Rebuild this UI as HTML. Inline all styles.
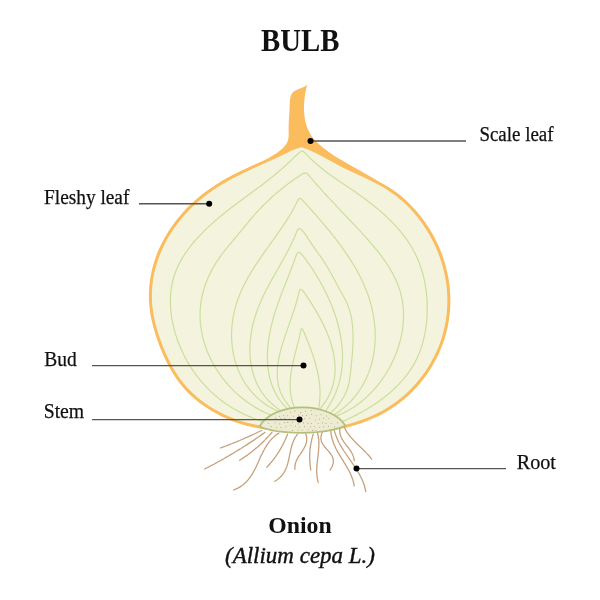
<!DOCTYPE html>
<html><head><meta charset="utf-8"><style>
html,body{margin:0;padding:0;background:#fff;width:600px;height:600px;overflow:hidden}
svg{display:block;will-change:transform}
text{font-family:"Liberation Serif",serif;fill:#111}
</style></head><body>
<svg width="600" height="600" viewBox="0 0 600 600">
<defs><clipPath id="fc"><path d="M301.7 147.2L299.7 147.7L297.0 148.5L294.3 149.5L291.7 150.6L280.8 156.0L275.2 158.6L252.9 168.6L244.6 172.4L236.5 176.4L229.8 180.0L223.3 183.7L218.2 186.8L213.2 190.1L208.3 193.6L203.5 197.2L198.9 201.0L194.4 204.9L190.1 209.1L185.0 214.5L181.1 219.1L177.4 223.8L173.8 228.7L169.7 235.0L166.7 240.1L164.0 245.5L161.5 250.9L159.2 256.4L157.3 262.1L155.6 267.8L154.2 273.6L153.1 279.4L152.4 285.3L152.0 291.2L151.9 297.1L152.1 303.0L152.3 305.9L152.9 310.3L153.8 316.2L155.4 323.5L157.4 330.8L159.8 338.0L162.9 346.5L165.8 353.5L169.0 360.3L171.7 365.6L173.9 369.4L175.5 371.9L178.7 376.9L181.3 380.4L183.1 382.8L186.9 387.2L191.0 391.5L195.4 395.6L200.0 399.4L204.8 403.0L209.8 406.4L212.3 408.0L216.3 410.3L221.6 413.1L224.3 414.4L228.4 416.3L234.0 418.5L236.8 419.5L241.0 421.0L248.0 423.0L255.2 424.6L263.9 426.3L271.4 427.5L280.4 428.6L287.9 429.2L295.5 429.6L303.2 429.7L310.8 429.5L318.4 429.0L325.9 428.2L332.0 427.4L339.4 426.1L346.7 424.5L354.0 422.5L359.7 420.6L366.7 418.1L372.1 415.7L378.8 412.5L384.0 409.7L387.8 407.4L390.3 405.8L395.2 402.5L398.7 399.8L401.0 398.0L405.6 394.1L409.9 390.0L412.0 387.8L415.0 384.5L418.9 379.9L420.8 377.6L423.5 373.9L426.1 370.2L427.7 367.7L430.9 362.5L433.0 358.5L434.4 355.9L437.0 350.4L439.3 344.9L441.3 339.2L443.0 333.5L443.7 330.6L444.7 326.3L445.8 320.5L446.2 317.6L446.8 313.1L447.2 307.2L447.3 304.3L447.4 299.8L447.2 293.9L446.8 288.0L446.0 282.1L445.0 276.3L443.8 270.4L442.2 264.7L440.4 258.9L437.8 251.9L435.5 246.4L432.8 241.0L429.2 234.3L426.1 229.2L421.9 223.0L418.3 218.2L414.5 213.5L410.5 209.1L406.3 204.8L403.0 201.8L399.6 198.9L396.2 196.1L392.6 193.4L388.9 190.9L385.2 188.5L381.4 186.2L376.1 183.4L370.8 180.7L365.3 178.1L350.0 171.0L343.1 167.7L336.2 164.1L322.8 156.8L316.2 153.3L312.1 151.4L308.1 149.6L305.3 148.5L301.7 147.2Z"/></clipPath></defs>
<path d="M307.2 84.8L305.9 85.8L304.3 86.7L302.5 87.5L297.0 89.7L294.5 91.0L293.1 92.1L292.5 92.8L292.0 93.4L291.1 95.0L290.6 96.8L290.2 98.6L289.9 100.5L289.8 102.5L289.5 110.3L288.7 123.4L288.6 128.1L288.7 134.9L288.6 136.8L288.3 138.7L287.9 140.5L287.6 141.4L286.8 143.1L286.4 143.9L285.3 145.4L283.4 147.5L282.0 148.9L280.6 150.1L277.6 152.4L273.6 155.0L268.7 157.9L263.8 160.5L253.0 165.2L246.1 168.4L239.2 171.7L233.7 174.4L227.0 178.1L221.7 181.1L216.6 184.3L211.5 187.7L205.3 192.1L200.5 195.8L195.8 199.7L191.3 203.8L186.9 208.0L182.8 212.5L178.8 217.2L175.0 222.0L171.4 227.0L168.8 230.8L166.4 234.7L164.1 238.7L161.3 244.1L159.3 248.3L157.5 252.5L155.9 256.8L154.4 261.1L153.1 265.5L151.9 270.0L151.0 274.4L150.2 278.9L149.6 283.5L149.1 288.0L148.9 292.6L148.9 297.1L148.9 300.2L149.4 306.2L150.1 312.3L150.6 315.3L151.5 319.8L153.3 327.2L155.5 334.6L158.0 341.9L160.7 349.0L163.7 356.1L167.0 363.0L170.6 369.6L173.7 374.8L176.2 378.6L178.0 381.0L181.7 385.8L185.7 390.4L190.0 394.7L194.5 398.8L199.3 402.7L204.3 406.3L206.9 408.1L210.8 410.5L216.1 413.6L221.6 416.5L227.2 419.0L230.1 420.2L234.3 421.9L240.1 423.8L243.0 424.7L247.3 425.9L254.6 427.6L261.9 429.0L270.9 430.5L278.5 431.4L286.2 432.1L293.9 432.5L303.2 432.7L310.9 432.5L318.6 432.0L326.3 431.2L333.9 430.1L341.5 428.7L349.0 427.0L354.8 425.3L362.1 423.0L367.8 420.8L374.7 417.8L380.2 415.2L384.2 413.0L386.8 411.5L391.9 408.3L395.7 405.8L398.2 404.0L402.9 400.3L407.6 396.3L409.8 394.2L413.1 391.0L417.3 386.5L419.3 384.2L422.2 380.6L426.0 375.7L428.6 371.9L430.3 369.3L432.7 365.3L434.2 362.6L437.1 357.2L439.1 353.0L440.3 350.2L442.6 344.5L444.6 338.7L446.3 332.8L447.7 326.9L448.2 323.9L449.0 319.5L449.7 313.4L450.0 310.4L450.3 305.9L450.4 301.3L450.3 296.8L450.1 292.3L449.6 286.2L448.8 280.2L448.0 275.7L447.0 271.2L445.5 265.3L444.2 260.9L442.3 255.1L440.6 250.8L438.2 245.1L436.2 241.0L433.4 235.5L430.3 230.2L427.8 226.3L424.3 221.2L420.6 216.3L416.7 211.6L413.7 208.2L409.4 203.8L405.0 199.6L400.4 195.6L396.8 192.8L393.1 190.1L390.6 188.4L385.5 185.2L381.5 182.9L377.9 181.0L367.6 174.9L347.3 163.6L340.9 159.8L334.6 155.9L327.7 151.2L322.5 147.3L318.2 143.6L316.2 141.7L314.3 139.7L312.6 137.5L311.0 135.2L309.6 132.8L308.0 129.5L307.0 126.9L305.9 123.4L305.3 120.7L304.6 117.0L304.3 114.2L304.0 110.5L304.0 106.7L304.1 103.0L304.6 98.3L305.2 93.7L306.1 89.1L307.2 84.8Z" fill="#fabc5d"/>
<path d="M301.7 147.2L299.7 147.7L297.0 148.5L294.3 149.5L291.7 150.6L280.8 156.0L275.2 158.6L252.9 168.6L244.6 172.4L236.5 176.4L229.8 180.0L223.3 183.7L218.2 186.8L213.2 190.1L208.3 193.6L203.5 197.2L198.9 201.0L194.4 204.9L190.1 209.1L185.0 214.5L181.1 219.1L177.4 223.8L173.8 228.7L169.7 235.0L166.7 240.1L164.0 245.5L161.5 250.9L159.2 256.4L157.3 262.1L155.6 267.8L154.2 273.6L153.1 279.4L152.4 285.3L152.0 291.2L151.9 297.1L152.1 303.0L152.3 305.9L152.9 310.3L153.8 316.2L155.4 323.5L157.4 330.8L159.8 338.0L162.9 346.5L165.8 353.5L169.0 360.3L171.7 365.6L173.9 369.4L175.5 371.9L178.7 376.9L181.3 380.4L183.1 382.8L186.9 387.2L191.0 391.5L195.4 395.6L200.0 399.4L204.8 403.0L209.8 406.4L212.3 408.0L216.3 410.3L221.6 413.1L224.3 414.4L228.4 416.3L234.0 418.5L236.8 419.5L241.0 421.0L248.0 423.0L255.2 424.6L263.9 426.3L271.4 427.5L280.4 428.6L287.9 429.2L295.5 429.6L303.2 429.7L310.8 429.5L318.4 429.0L325.9 428.2L332.0 427.4L339.4 426.1L346.7 424.5L354.0 422.5L359.7 420.6L366.7 418.1L372.1 415.7L378.8 412.5L384.0 409.7L387.8 407.4L390.3 405.8L395.2 402.5L398.7 399.8L401.0 398.0L405.6 394.1L409.9 390.0L412.0 387.8L415.0 384.5L418.9 379.9L420.8 377.6L423.5 373.9L426.1 370.2L427.7 367.7L430.9 362.5L433.0 358.5L434.4 355.9L437.0 350.4L439.3 344.9L441.3 339.2L443.0 333.5L443.7 330.6L444.7 326.3L445.8 320.5L446.2 317.6L446.8 313.1L447.2 307.2L447.3 304.3L447.4 299.8L447.2 293.9L446.8 288.0L446.0 282.1L445.0 276.3L443.8 270.4L442.2 264.7L440.4 258.9L437.8 251.9L435.5 246.4L432.8 241.0L429.2 234.3L426.1 229.2L421.9 223.0L418.3 218.2L414.5 213.5L410.5 209.1L406.3 204.8L403.0 201.8L399.6 198.9L396.2 196.1L392.6 193.4L388.9 190.9L385.2 188.5L381.4 186.2L376.1 183.4L370.8 180.7L365.3 178.1L350.0 171.0L343.1 167.7L336.2 164.1L322.8 156.8L316.2 153.3L312.1 151.4L308.1 149.6L305.3 148.5L301.7 147.2Z" fill="#f4f3dd"/>
<g clip-path="url(#fc)" fill="none" stroke="#cadf9c" stroke-width="1.2" stroke-linecap="round" stroke-linejoin="round">
<path d="M265.2 422.3L261.4 421.1L259.9 420.6L258.1 419.9L256.1 419.2L254.1 418.5L252.1 417.7L250.2 416.9L248.3 416.1L246.3 415.2L244.4 414.4L242.5 413.5L240.7 412.5L238.8 411.5L236.9 410.5L235.1 409.5L233.3 408.5L231.5 407.4L229.7 406.3L228.0 405.1L226.2 403.9L224.5 402.7L222.8 401.5L221.1 400.2L219.4 399.0L217.8 397.6L216.2 396.3L214.6 394.9L213.0 393.5L211.4 392.1L209.9 390.7L208.4 389.2L206.9 387.7L205.5 386.2L204.1 384.6L202.7 383.1L201.3 381.5L199.9 379.9L198.6 378.2L197.3 376.6L196.1 374.9L194.8 373.2L193.6 371.5L192.4 369.7L191.3 368.0L190.2 366.2L189.1 364.4L188.0 362.6L186.9 360.8L185.9 358.9L184.9 357.1L184.0 355.2L183.1 353.3L182.2 351.4L181.3 349.5L180.5 347.6L179.6 345.6L178.9 343.7L178.1 341.7L177.4 339.7L176.7 337.7L176.1 335.7L175.4 333.7L174.8 331.7L174.3 329.7L173.8 327.6L173.3 325.6L172.8 323.5L172.4 321.5L172.0 319.4L171.7 317.3L171.4 315.3L171.1 313.2L170.9 311.1L170.7 309.0L170.6 306.9L170.5 304.8L170.4 302.7L170.4 300.6L170.4 298.5L170.5 296.4L170.6 294.3L170.8 292.2L171.1 290.1L171.3 288.0L171.7 285.9L172.1 283.9L172.5 281.8L173.0 279.8L173.6 277.8L174.2 275.8L174.9 273.8L175.6 271.8L176.4 269.8L177.2 267.9L178.1 266.0L179.0 264.1L180.0 262.2L181.0 260.4L182.0 258.6L183.1 256.8L184.2 255.0L185.4 253.2L186.6 251.5L187.8 249.8L189.1 248.1L190.3 246.4L191.6 244.8L193.0 243.1L194.3 241.5L195.7 239.9L197.1 238.4L198.5 236.8L200.0 235.3L201.4 233.8L202.9 232.3L204.4 230.8L205.9 229.3L207.4 227.9L208.9 226.4L210.5 225.0L212.0 223.6L213.6 222.2L215.2 220.8L216.8 219.4L218.4 218.1L220.0 216.7L221.6 215.4L223.3 214.1L224.9 212.7L226.5 211.4L228.2 210.1L229.8 208.8L231.5 207.5L233.2 206.3L234.9 205.0L236.5 203.7L238.2 202.4L239.9 201.2L241.6 199.9L243.3 198.7L245.0 197.4L246.7 196.2L248.3 194.9L250.0 193.7L251.7 192.4L253.4 191.2L255.1 190.0L256.8 188.7L258.5 187.5L260.2 186.2L261.9 184.9L263.6 183.7L265.2 182.4L266.9 181.1L268.5 179.8L270.2 178.5L271.8 177.2L273.5 175.9L275.1 174.5L276.7 173.2L278.3 171.8L279.9 170.5L281.5 169.1L283.1 167.7L284.6 166.3L286.2 164.9L287.7 163.4L289.3 162.0L290.8 160.5L292.3 159.1L293.8 157.6L295.3 156.2L296.9 154.8L298.5 153.4L300.1 152.1L301.7 151.2L303.2 151.4L304.7 152.7L306.1 154.2L307.6 155.7L309.0 157.2L310.5 158.7L312.1 160.1L313.6 161.5L315.2 162.9L316.8 164.3L318.4 165.7L320.0 167.0L321.6 168.3L323.3 169.6L325.0 170.9L326.6 172.2L328.3 173.4L330.0 174.6L331.7 175.9L333.4 177.1L335.2 178.3L336.9 179.5L338.6 180.7L340.4 181.9L342.1 183.1L343.8 184.2L345.6 185.4L347.3 186.6L349.1 187.8L350.8 188.9L352.5 190.1L354.3 191.3L356.0 192.5L357.7 193.7L359.5 194.9L361.2 196.2L362.9 197.4L364.6 198.6L366.3 199.9L367.9 201.2L369.6 202.4L371.3 203.7L372.9 205.0L374.6 206.3L376.2 207.7L377.8 209.0L379.4 210.4L381.0 211.7L382.6 213.1L384.2 214.5L385.7 216.0L387.2 217.4L388.8 218.8L390.3 220.3L391.7 221.8L393.2 223.3L394.7 224.8L396.1 226.4L397.5 227.9L398.9 229.5L400.2 231.1L401.6 232.8L402.9 234.4L404.1 236.1L405.4 237.8L406.6 239.5L407.8 241.2L409.0 243.0L410.1 244.7L411.2 246.5L412.3 248.3L413.3 250.2L414.3 252.0L415.3 253.9L416.2 255.8L417.1 257.7L417.9 259.6L418.7 261.6L419.5 263.5L420.2 265.5L420.9 267.5L421.5 269.5L422.1 271.5L422.7 273.5L423.3 275.6L423.8 277.6L424.2 279.6L424.6 281.7L425.0 283.8L425.4 285.8L425.7 287.9L426.0 290.0L426.3 292.1L426.5 294.2L426.7 296.3L426.9 298.4L427.0 300.5L427.1 302.6L427.2 304.7L427.2 306.8L427.2 308.9L427.2 311.0L427.1 313.1L427.1 315.2L426.9 317.3L426.8 319.4L426.6 321.5L426.4 323.6L426.1 325.7L425.9 327.7L425.6 329.8L425.2 331.9L424.8 334.0L424.4 336.0L423.9 338.1L423.4 340.1L422.9 342.1L422.3 344.2L421.7 346.2L421.1 348.2L420.4 350.2L419.6 352.1L418.8 354.1L418.0 356.0L417.1 357.9L416.2 359.8L415.3 361.7L414.3 363.5L413.2 365.4L412.1 367.2L411.0 368.9L409.9 370.7L408.7 372.4L407.4 374.1L406.1 375.8L404.8 377.4L403.5 379.1L402.1 380.7L400.7 382.2L399.3 383.8L397.8 385.3L396.3 386.8L394.8 388.2L393.3 389.7L391.7 391.1L390.2 392.5L388.6 393.8L386.9 395.2L385.3 396.5L383.7 397.8L382.0 399.1L380.3 400.3L378.6 401.5L376.8 402.7L375.1 403.9L373.4 405.1L371.6 406.2L369.8 407.3L368.0 408.4L366.2 409.5L364.4 410.6L362.6 411.6L360.7 412.6L358.9 413.6L357.0 414.6L355.1 415.6L353.3 416.5L351.4 417.4L349.5 418.3L347.6 419.2L345.7 420.1L343.8 420.9L342.5 421.5L338.8 423.2"/>
<path d="M275.4 416.9L271.7 415.4L270.3 414.8L268.4 414.0L266.5 413.2L264.6 412.3L262.7 411.4L260.8 410.4L259.0 409.4L257.1 408.4L255.3 407.3L253.5 406.2L251.8 405.1L250.0 404.0L248.3 402.8L246.6 401.5L244.9 400.3L243.2 399.0L241.6 397.7L239.9 396.3L238.4 395.0L236.8 393.6L235.2 392.1L233.7 390.7L232.2 389.2L230.8 387.7L229.3 386.1L227.9 384.6L226.6 383.0L225.2 381.4L223.9 379.7L222.6 378.1L221.3 376.4L220.1 374.7L218.9 373.0L217.7 371.2L216.6 369.5L215.5 367.7L214.4 365.9L213.3 364.0L212.3 362.2L211.4 360.3L210.4 358.4L209.5 356.5L208.7 354.6L207.8 352.7L207.0 350.7L206.3 348.8L205.6 346.8L204.9 344.8L204.3 342.8L203.7 340.8L203.1 338.8L202.6 336.7L202.2 334.7L201.8 332.6L201.4 330.5L201.1 328.4L200.8 326.4L200.5 324.3L200.3 322.2L200.2 320.1L200.1 318.0L200.1 315.9L200.1 313.8L200.1 311.7L200.2 309.6L200.4 307.5L200.6 305.4L200.8 303.3L201.1 301.2L201.5 299.1L201.9 297.1L202.4 295.0L202.9 293.0L203.4 291.0L204.0 288.9L204.6 286.9L205.3 284.9L206.0 283.0L206.8 281.0L207.6 279.1L208.4 277.1L209.3 275.2L210.2 273.3L211.2 271.4L212.1 269.6L213.2 267.7L214.2 265.9L215.3 264.1L216.4 262.3L217.5 260.5L218.7 258.8L219.9 257.1L221.1 255.4L222.4 253.7L223.6 252.0L224.9 250.3L226.2 248.7L227.6 247.1L228.9 245.4L230.3 243.8L231.6 242.2L233.0 240.6L234.3 239.0L235.7 237.4L237.0 235.8L238.4 234.2L239.7 232.5L241.0 230.9L242.4 229.3L243.7 227.6L245.0 226.0L246.4 224.4L247.7 222.8L249.0 221.1L250.4 219.5L251.8 217.9L253.1 216.3L254.5 214.8L255.9 213.2L257.3 211.6L258.8 210.1L260.2 208.6L261.7 207.0L263.1 205.5L264.6 204.1L266.1 202.6L267.7 201.1L269.2 199.7L270.7 198.3L272.3 196.8L273.9 195.4L275.4 194.1L277.0 192.7L278.6 191.3L280.3 190.0L281.9 188.7L283.5 187.4L285.2 186.1L286.9 184.8L288.6 183.5L290.3 182.3L292.0 181.0L293.7 179.8L295.4 178.6L297.1 177.5L298.9 176.3L300.7 175.1L302.4 174.0L304.2 173.1L306.0 173.1L307.6 174.0L309.0 175.5L310.3 177.1L311.7 178.7L313.1 180.3L314.4 181.9L315.8 183.5L317.2 185.1L318.6 186.7L320.0 188.2L321.4 189.8L322.8 191.4L324.2 192.9L325.7 194.5L327.1 196.0L328.5 197.6L329.9 199.1L331.4 200.6L332.8 202.2L334.2 203.7L335.7 205.2L337.1 206.8L338.6 208.3L340.0 209.8L341.5 211.4L342.9 212.9L344.4 214.4L345.8 215.9L347.3 217.5L348.7 219.0L350.2 220.5L351.6 222.0L353.1 223.6L354.5 225.1L355.9 226.6L357.4 228.2L358.8 229.7L360.3 231.2L361.7 232.8L363.1 234.3L364.5 235.9L365.9 237.4L367.3 239.0L368.7 240.6L370.1 242.2L371.5 243.8L372.9 245.4L374.2 247.0L375.5 248.6L376.9 250.2L378.2 251.9L379.5 253.5L380.7 255.2L382.0 256.9L383.2 258.6L384.5 260.3L385.7 262.0L386.8 263.8L388.0 265.5L389.1 267.3L390.2 269.1L391.2 270.9L392.3 272.8L393.3 274.6L394.2 276.5L395.2 278.4L396.0 280.3L396.9 282.2L397.7 284.2L398.4 286.1L399.1 288.1L399.8 290.1L400.4 292.1L400.9 294.2L401.4 296.2L401.9 298.3L402.3 300.3L402.6 302.4L402.9 304.5L403.1 306.6L403.3 308.7L403.4 310.8L403.5 312.9L403.5 315.0L403.5 317.1L403.5 319.2L403.3 321.3L403.2 323.4L403.0 325.5L402.7 327.6L402.5 329.6L402.1 331.7L401.8 333.8L401.3 335.9L400.9 337.9L400.4 339.9L399.9 342.0L399.3 344.0L398.7 346.0L398.0 348.0L397.4 350.0L396.7 352.0L395.9 354.0L395.1 355.9L394.3 357.8L393.4 359.8L392.5 361.7L391.6 363.6L390.7 365.4L389.7 367.3L388.7 369.1L387.6 370.9L386.5 372.8L385.4 374.5L384.3 376.3L383.1 378.0L381.9 379.8L380.6 381.5L379.4 383.1L378.1 384.8L376.7 386.4L375.4 388.0L374.0 389.6L372.6 391.1L371.1 392.7L369.6 394.2L368.1 395.6L366.6 397.1L365.0 398.5L363.4 399.9L361.8 401.2L360.2 402.5L358.5 403.8L356.8 405.0L355.1 406.2L353.3 407.4L351.5 408.5L349.7 409.6L347.9 410.6L346.0 411.6L344.2 412.6L342.3 413.5L340.3 414.3L338.5 415.1L337.1 415.7L333.4 417.2"/>
<path d="M287.2 414.9L283.5 413.5L282.1 412.9L280.2 412.2L278.3 411.4L276.4 410.5L274.5 409.6L272.7 408.6L270.8 407.6L269.0 406.5L267.2 405.4L265.5 404.2L263.8 403.0L262.1 401.7L260.4 400.4L258.8 399.1L257.2 397.7L255.7 396.2L254.2 394.7L252.8 393.2L251.4 391.7L250.0 390.0L248.7 388.4L247.5 386.7L246.2 385.0L245.1 383.3L244.0 381.5L242.9 379.7L241.9 377.8L240.9 376.0L240.0 374.1L239.1 372.2L238.3 370.2L237.5 368.3L236.8 366.3L236.1 364.3L235.5 362.3L234.9 360.3L234.4 358.2L233.9 356.2L233.5 354.1L233.1 352.1L232.7 350.0L232.4 347.9L232.2 345.8L232.0 343.7L231.8 341.6L231.7 339.5L231.6 337.4L231.6 335.3L231.6 333.2L231.7 331.1L231.8 329.0L231.9 326.9L232.1 324.8L232.4 322.7L232.6 320.7L232.9 318.6L233.3 316.5L233.7 314.4L234.1 312.4L234.6 310.3L235.1 308.3L235.7 306.3L236.2 304.2L236.9 302.2L237.6 300.3L238.3 298.3L239.0 296.3L239.8 294.4L240.6 292.4L241.5 290.5L242.3 288.6L243.2 286.7L244.2 284.8L245.1 282.9L246.1 281.1L247.1 279.2L248.1 277.4L249.2 275.6L250.2 273.7L251.3 271.9L252.4 270.2L253.6 268.4L254.7 266.6L255.8 264.8L257.0 263.1L258.1 261.3L259.3 259.6L260.5 257.8L261.7 256.1L262.9 254.4L264.1 252.7L265.3 250.9L266.5 249.2L267.8 247.5L269.0 245.8L270.2 244.1L271.4 242.4L272.7 240.7L273.9 239.0L275.1 237.2L276.3 235.5L277.5 233.8L278.7 232.1L279.9 230.4L281.1 228.6L282.3 226.9L283.5 225.1L284.6 223.4L285.8 221.6L286.9 219.9L288.0 218.1L289.2 216.3L290.2 214.5L291.3 212.7L292.4 210.9L293.4 209.0L294.4 207.2L295.4 205.3L296.3 203.4L297.2 201.6L298.2 199.7L299.2 198.4L300.5 198.5L301.9 199.6L303.4 201.1L304.8 202.7L306.2 204.2L307.6 205.8L309.0 207.3L310.4 208.9L311.8 210.5L313.2 212.1L314.6 213.6L316.0 215.2L317.4 216.8L318.7 218.4L320.1 220.0L321.5 221.6L322.9 223.2L324.2 224.8L325.6 226.4L326.9 228.0L328.3 229.6L329.6 231.2L330.9 232.9L332.2 234.5L333.5 236.2L334.8 237.8L336.1 239.5L337.4 241.1L338.7 242.8L339.9 244.5L341.2 246.2L342.4 247.9L343.6 249.6L344.8 251.3L346.0 253.1L347.2 254.8L348.4 256.6L349.5 258.3L350.7 260.1L351.8 261.9L352.9 263.7L354.0 265.5L355.0 267.3L356.1 269.1L357.1 270.9L358.1 272.8L359.1 274.6L360.0 276.5L361.0 278.4L361.9 280.3L362.8 282.2L363.7 284.1L364.5 286.0L365.3 288.0L366.1 289.9L366.9 291.9L367.6 293.9L368.3 295.8L369.0 297.8L369.6 299.8L370.2 301.8L370.8 303.9L371.3 305.9L371.8 307.9L372.3 310.0L372.7 312.0L373.1 314.1L373.5 316.2L373.8 318.3L374.1 320.3L374.4 322.4L374.6 324.5L374.8 326.6L375.0 328.7L375.1 330.8L375.1 332.9L375.2 335.0L375.2 337.1L375.1 339.2L375.1 341.3L374.9 343.4L374.8 345.5L374.6 347.6L374.3 349.7L374.1 351.8L373.7 353.9L373.4 355.9L373.0 358.0L372.5 360.0L372.0 362.1L371.5 364.1L370.9 366.1L370.3 368.2L369.6 370.1L368.9 372.1L368.1 374.1L367.3 376.0L366.4 377.9L365.6 379.8L364.6 381.7L363.6 383.6L362.6 385.4L361.5 387.2L360.4 389.0L359.2 390.7L358.0 392.5L356.8 394.2L355.5 395.8L354.1 397.4L352.8 399.0L351.4 400.6L349.9 402.1L348.4 403.6L346.9 405.0L345.3 406.4L343.7 407.8L342.1 409.1L340.4 410.4L338.7 411.7L337.0 412.9L335.3 414.0L333.8 414.9L330.5 417.1"/>
<path d="M289.9 415.7L286.4 413.8L285.1 413.1L283.3 412.1L281.5 411.0L279.8 409.9L278.0 408.7L276.3 407.4L274.7 406.1L273.0 404.8L271.5 403.4L269.9 402.0L268.4 400.5L267.0 398.9L265.6 397.3L264.3 395.7L263.1 394.0L261.8 392.3L260.7 390.5L259.6 388.7L258.6 386.9L257.6 385.0L256.7 383.1L255.8 381.2L255.1 379.2L254.3 377.3L253.7 375.3L253.0 373.3L252.5 371.2L252.0 369.2L251.5 367.1L251.2 365.1L250.8 363.0L250.5 360.9L250.3 358.8L250.1 356.7L250.0 354.6L249.9 352.5L249.9 350.4L249.9 348.3L249.9 346.2L250.0 344.1L250.2 342.0L250.4 339.9L250.6 337.8L250.9 335.7L251.2 333.6L251.5 331.5L251.9 329.5L252.3 327.4L252.7 325.4L253.2 323.3L253.8 321.3L254.3 319.2L254.9 317.2L255.5 315.2L256.2 313.2L256.9 311.2L257.6 309.2L258.4 307.3L259.1 305.3L260.0 303.4L260.8 301.4L261.6 299.5L262.5 297.6L263.4 295.7L264.3 293.8L265.3 291.9L266.2 290.1L267.2 288.2L268.2 286.3L269.2 284.5L270.2 282.6L271.2 280.8L272.2 278.9L273.2 277.1L274.3 275.3L275.3 273.4L276.4 271.6L277.4 269.8L278.4 267.9L279.5 266.1L280.5 264.3L281.6 262.4L282.6 260.6L283.6 258.8L284.6 256.9L285.7 255.1L286.6 253.2L287.6 251.4L288.6 249.5L289.6 247.6L290.5 245.7L291.4 243.8L292.3 241.9L293.2 240.0L294.1 238.1L294.9 236.2L295.7 234.2L296.5 232.3L297.2 230.4L298.2 229.0L299.7 228.7L301.3 229.6L302.7 231.1L304.1 232.7L305.3 234.4L306.5 236.1L307.7 237.8L308.8 239.6L310.0 241.4L311.1 243.2L312.3 244.9L313.5 246.6L314.7 248.4L315.9 250.1L317.1 251.8L318.4 253.5L319.6 255.2L320.8 256.9L322.0 258.6L323.2 260.4L324.4 262.1L325.5 263.9L326.6 265.7L327.7 267.5L328.7 269.3L329.8 271.2L330.8 273.0L331.8 274.9L332.8 276.7L333.8 278.6L334.8 280.4L335.8 282.3L336.8 284.2L337.8 286.0L338.8 287.9L339.8 289.7L340.8 291.5L341.9 293.4L342.9 295.2L343.9 297.0L344.9 298.9L345.9 300.8L346.7 302.7L347.6 304.6L348.3 306.6L349.0 308.6L349.7 310.6L350.2 312.6L350.7 314.6L351.2 316.7L351.6 318.8L351.9 320.8L352.2 322.9L352.5 325.0L352.6 327.1L352.8 329.2L352.9 331.3L353.0 333.4L353.0 335.5L353.1 337.6L353.0 339.7L353.0 341.8L352.9 343.9L352.8 346.0L352.7 348.1L352.6 350.2L352.5 352.3L352.3 354.4L352.1 356.5L351.9 358.6L351.7 360.7L351.5 362.8L351.3 364.9L351.1 367.0L350.9 369.1L350.7 371.2L350.4 373.3L350.2 375.4L349.9 377.5L349.6 379.6L349.3 381.6L348.8 383.7L348.3 385.7L347.8 387.8L347.1 389.8L346.3 391.7L345.5 393.6L344.5 395.5L343.5 397.4L342.4 399.2L341.3 400.9L340.1 402.7L338.8 404.3L337.5 406.0L336.1 407.5L334.6 409.1L333.1 410.5L331.6 411.9L330.5 412.9L327.5 415.5"/>
<path d="M294.4 414.7L291.3 412.1L290.1 411.1L288.6 409.8L287.1 408.4L285.6 406.9L284.1 405.4L282.7 403.8L281.4 402.2L280.1 400.5L278.9 398.8L277.7 397.1L276.7 395.3L275.6 393.4L274.7 391.5L273.8 389.6L272.9 387.7L272.2 385.8L271.5 383.8L270.8 381.8L270.2 379.7L269.7 377.7L269.3 375.7L268.8 373.6L268.5 371.5L268.2 369.4L267.9 367.4L267.7 365.3L267.6 363.2L267.5 361.1L267.4 359.0L267.4 356.8L267.4 354.7L267.5 352.6L267.6 350.5L267.7 348.4L267.9 346.3L268.1 344.2L268.3 342.2L268.6 340.1L268.9 338.0L269.3 335.9L269.6 333.8L270.0 331.8L270.4 329.7L270.9 327.7L271.4 325.6L271.9 323.6L272.4 321.5L272.9 319.5L273.5 317.5L274.1 315.4L274.7 313.4L275.3 311.4L275.9 309.4L276.6 307.4L277.3 305.4L278.0 303.4L278.7 301.4L279.4 299.5L280.1 297.5L280.8 295.5L281.6 293.5L282.3 291.6L283.1 289.6L283.8 287.7L284.6 285.7L285.4 283.7L286.2 281.8L286.9 279.8L287.7 277.9L288.5 275.9L289.3 274.0L290.0 272.0L290.8 270.0L291.6 268.1L292.3 266.1L293.1 264.1L293.8 262.2L294.5 260.2L295.2 258.2L295.9 256.2L296.7 254.3L297.5 252.7L298.8 252.2L300.4 253.0L301.8 254.4L303.1 256.0L304.4 257.7L305.7 259.4L306.9 261.1L308.1 262.8L309.3 264.5L310.5 266.2L311.7 268.0L312.9 269.7L314.0 271.5L315.1 273.3L316.2 275.1L317.3 276.9L318.4 278.7L319.5 280.5L320.5 282.3L321.5 284.2L322.5 286.0L323.5 287.9L324.5 289.8L325.4 291.6L326.3 293.5L327.3 295.4L328.1 297.3L329.0 299.3L329.8 301.2L330.7 303.1L331.5 305.1L332.2 307.0L333.0 309.0L333.7 311.0L334.4 312.9L335.1 314.9L335.8 316.9L336.4 318.9L337.0 321.0L337.6 323.0L338.1 325.0L338.6 327.0L339.1 329.1L339.6 331.1L340.0 333.2L340.4 335.3L340.8 337.3L341.1 339.4L341.4 341.5L341.7 343.6L341.9 345.7L342.1 347.8L342.3 349.9L342.4 352.0L342.5 354.1L342.5 356.2L342.5 358.3L342.4 360.4L342.4 362.5L342.2 364.6L342.1 366.7L341.8 368.8L341.6 370.9L341.3 373.0L340.9 375.0L340.5 377.1L340.1 379.2L339.6 381.2L339.0 383.2L338.4 385.2L337.8 387.2L337.1 389.2L336.3 391.2L335.5 393.2L334.7 395.1L333.8 397.0L332.9 398.9L331.9 400.7L330.9 402.6L329.8 404.4L328.7 406.2L327.6 407.9L326.5 409.5L324.3 412.8"/>
<path d="M295.9 412.8L293.0 410.0L291.9 409.0L290.5 407.5L289.1 406.0L287.7 404.4L286.5 402.7L285.2 401.0L284.1 399.2L283.0 397.4L282.1 395.5L281.2 393.6L280.4 391.7L279.7 389.7L279.1 387.7L278.5 385.6L278.1 383.6L277.8 381.5L277.5 379.4L277.4 377.3L277.3 375.2L277.2 373.1L277.3 371.0L277.4 368.9L277.6 366.8L277.8 364.7L278.1 362.6L278.5 360.5L278.8 358.4L279.3 356.3L279.7 354.3L280.2 352.2L280.7 350.2L281.3 348.2L281.9 346.1L282.5 344.1L283.1 342.1L283.7 340.1L284.4 338.1L285.0 336.1L285.7 334.1L286.4 332.1L287.1 330.1L287.8 328.1L288.5 326.1L289.2 324.1L289.9 322.1L290.6 320.1L291.3 318.1L292.0 316.2L292.7 314.2L293.4 312.2L294.0 310.2L294.7 308.1L295.3 306.1L295.9 304.1L296.5 302.1L297.1 300.1L297.6 298.0L298.1 296.0L298.6 293.9L299.1 291.9L299.6 290.1L300.6 289.3L302.0 290.0L303.4 291.4L304.6 293.1L305.8 294.9L307.0 296.6L308.2 298.4L309.3 300.1L310.5 301.9L311.6 303.7L312.7 305.4L313.8 307.2L314.9 309.0L316.0 310.9L317.1 312.7L318.1 314.5L319.1 316.4L320.1 318.2L321.1 320.1L322.1 322.0L323.0 323.9L323.9 325.8L324.8 327.7L325.7 329.6L326.5 331.5L327.3 333.5L328.1 335.4L328.9 337.4L329.6 339.4L330.2 341.4L330.9 343.4L331.5 345.4L332.1 347.5L332.6 349.5L333.1 351.6L333.5 353.6L333.9 355.7L334.2 357.8L334.5 359.9L334.7 362.0L334.9 364.1L335.0 366.2L335.1 368.3L335.0 370.4L335.0 372.5L334.8 374.6L334.6 376.7L334.3 378.8L333.9 380.9L333.5 382.9L333.0 385.0L332.4 387.0L331.7 389.0L331.0 391.0L330.1 392.9L329.3 394.8L328.3 396.7L327.3 398.6L326.2 400.4L325.0 402.1L323.8 403.9L322.6 405.5L321.3 407.1L320.4 408.3L317.8 411.4"/>
<path d="M296.1 411.5L294.6 407.8L294.0 406.4L293.3 404.5L292.6 402.5L292.1 400.5L291.5 398.4L291.1 396.4L290.8 394.3L290.5 392.2L290.3 390.1L290.2 388.0L290.1 385.9L290.1 383.8L290.2 381.7L290.3 379.5L290.5 377.4L290.7 375.4L291.0 373.3L291.3 371.2L291.7 369.1L292.1 367.0L292.5 365.0L292.9 362.9L293.4 360.8L293.9 358.8L294.4 356.7L294.9 354.7L295.4 352.6L295.9 350.6L296.5 348.5L297.0 346.5L297.5 344.5L298.1 342.4L298.6 340.4L299.1 338.3L299.6 336.3L300.0 334.2L300.5 332.2L300.9 330.2L301.5 328.8L302.3 328.9L303.2 330.4L304.0 332.3L304.8 334.2L305.6 336.2L306.4 338.1L307.2 340.1L308.0 342.1L308.8 344.0L309.5 346.0L310.3 348.0L311.0 349.9L311.7 351.9L312.4 353.9L313.1 355.9L313.7 357.9L314.4 359.9L315.0 362.0L315.6 364.0L316.1 366.0L316.6 368.1L317.1 370.1L317.6 372.2L318.0 374.2L318.4 376.3L318.8 378.4L319.1 380.5L319.3 382.6L319.6 384.7L319.8 386.8L319.9 388.9L320.0 391.0L320.0 393.1L320.0 395.2L319.9 397.3L319.8 399.4L319.6 401.5L319.4 403.4L319.0 407.4"/>
</g>
<g fill="none" stroke="#c6a27c" stroke-width="1.3" stroke-linecap="round">
<path d="M261.5 430.5L260.5 431.0L259.4 431.5L258.4 432.0L257.4 432.5L256.3 433.0L255.3 433.5L254.3 434.0L253.2 434.4L252.2 434.9L251.1 435.4L250.1 435.9L249.0 436.3L248.0 436.8L247.0 437.3L245.9 437.7L244.9 438.2L243.8 438.6L242.8 439.1L241.7 439.6L240.6 440.0L239.6 440.5L238.5 440.9L237.5 441.3L236.4 441.8L235.4 442.2L234.3 442.6L233.2 443.1L232.2 443.5L231.1 443.9L230.0 444.3L229.0 444.8L227.9 445.2L226.8 445.6L225.8 446.0L224.7 446.4L223.6 446.8L222.6 447.2L221.5 447.6L220.4 448.0"/>
<path d="M265.0 432.3L263.5 433.4L262.0 434.4L260.6 435.4L259.1 436.5L257.6 437.5L256.1 438.5L254.6 439.6L253.1 440.6L251.6 441.6L250.0 442.6L248.5 443.6L247.0 444.6L245.5 445.6L244.0 446.5L242.4 447.5L240.9 448.5L239.4 449.4L237.8 450.4L236.3 451.3L234.7 452.3L233.2 453.2L231.6 454.1L230.0 455.1L228.5 456.0L226.9 456.9L225.3 457.8L223.8 458.7L222.2 459.6L220.6 460.5L219.0 461.3L217.4 462.2L215.8 463.1L214.3 464.0L212.7 464.8L211.0 465.7L209.4 466.5L207.8 467.3L206.2 468.2L204.6 469.0"/>
<path d="M272.0 432.3L271.3 433.1L270.5 434.0L269.8 434.8L269.1 435.6L268.3 436.4L267.6 437.2L266.8 438.0L266.0 438.8L265.3 439.6L264.5 440.4L263.7 441.2L262.9 442.0L262.1 442.7L261.3 443.5L260.5 444.2L259.7 445.0L258.9 445.7L258.1 446.4L257.3 447.2L256.4 447.9L255.6 448.6L254.8 449.3L253.9 450.0L253.1 450.7L252.2 451.4L251.3 452.1L250.5 452.7L249.6 453.4L248.7 454.1L247.8 454.7L246.9 455.4L246.0 456.0L245.1 456.6L244.2 457.3L243.3 457.9L242.4 458.5L241.5 459.1L240.5 459.7L239.6 460.3"/>
<path d="M279.0 433.0L277.3 434.1L275.7 435.3L274.2 436.5L272.8 437.9L271.4 439.2L270.2 440.7L269.0 442.1L267.9 443.7L266.8 445.2L265.8 446.9L264.8 448.5L263.9 450.2L263.0 451.9L262.2 453.6L261.3 455.3L260.5 457.1L259.7 458.8L259.0 460.6L258.2 462.3L257.4 464.1L256.6 465.8L255.8 467.5L254.9 469.2L254.0 470.9L253.1 472.5L252.2 474.1L251.2 475.7L250.1 477.2L249.0 478.7L247.9 480.2L246.6 481.5L245.3 482.8L243.9 484.1L242.4 485.3L240.9 486.4L239.2 487.4L237.4 488.4L235.5 489.2L233.5 490.0"/>
<path d="M287.5 434.2L287.1 435.2L286.8 436.1L286.4 437.0L286.0 438.0L285.6 438.9L285.2 439.8L284.8 440.8L284.3 441.7L283.9 442.6L283.5 443.5L283.0 444.4L282.6 445.3L282.1 446.2L281.6 447.0L281.1 447.9L280.6 448.8L280.1 449.7L279.6 450.5L279.1 451.4L278.6 452.2L278.0 453.1L277.5 453.9L276.9 454.7L276.3 455.6L275.8 456.4L275.2 457.2L274.6 458.0L274.0 458.8L273.4 459.6L272.8 460.4L272.1 461.2L271.5 462.0L270.9 462.7L270.2 463.5L269.5 464.3L268.9 465.0L268.2 465.8L267.5 466.6L266.8 467.3"/>
<path d="M297.5 434.2L296.6 435.3L295.9 436.5L295.1 437.7L294.5 438.9L293.9 440.1L293.3 441.4L292.8 442.6L292.4 443.9L292.0 445.2L291.6 446.5L291.2 447.9L290.9 449.2L290.6 450.6L290.3 451.9L290.0 453.3L289.7 454.6L289.4 456.0L289.2 457.3L288.9 458.7L288.6 460.0L288.3 461.4L287.9 462.7L287.6 464.0L287.2 465.3L286.8 466.5L286.3 467.8L285.8 469.0L285.2 470.2L284.6 471.4L283.9 472.6L283.2 473.7L282.4 474.8L281.6 475.8L280.6 476.8L279.6 477.8L278.5 478.8L277.3 479.7L276.0 480.5L274.6 481.3"/>
<path d="M305.8 434.0L306.1 435.1L306.4 436.2L306.6 437.3L306.7 438.3L306.7 439.3L306.7 440.3L306.6 441.3L306.4 442.2L306.2 443.1L305.9 444.0L305.6 444.9L305.3 445.8L304.9 446.7L304.4 447.5L304.0 448.3L303.5 449.2L303.0 450.0L302.5 450.8L301.9 451.6L301.4 452.4L300.9 453.2L300.3 454.0L299.8 454.8L299.2 455.6L298.7 456.4L298.2 457.2L297.7 458.1L297.3 458.9L296.8 459.8L296.4 460.6L296.1 461.5L295.7 462.4L295.5 463.3L295.2 464.2L295.1 465.2L294.9 466.1L294.9 467.1L294.9 468.2L295.0 469.2"/>
<path d="M313.3 434.0L313.0 434.9L312.7 435.8L312.5 436.7L312.2 437.6L312.0 438.5L311.8 439.4L311.6 440.4L311.4 441.3L311.2 442.2L311.0 443.1L310.8 444.0L310.7 444.9L310.5 445.8L310.4 446.8L310.3 447.7L310.1 448.6L310.0 449.5L310.0 450.4L309.9 451.4L309.8 452.3L309.8 453.2L309.7 454.1L309.7 455.1L309.7 456.0L309.7 456.9L309.7 457.8L309.7 458.8L309.7 459.7L309.8 460.6L309.8 461.6L309.9 462.5L310.0 463.4L310.0 464.4L310.1 465.3L310.2 466.2L310.4 467.2L310.5 468.1L310.6 469.1L310.8 470.0"/>
<path d="M317.5 433.0L317.8 434.3L318.1 435.5L318.3 436.8L318.5 438.1L318.7 439.4L318.8 440.6L318.8 441.9L318.9 443.2L318.9 444.5L318.8 445.7L318.8 447.0L318.7 448.3L318.6 449.6L318.5 450.8L318.4 452.1L318.3 453.4L318.1 454.6L318.0 455.9L317.8 457.2L317.7 458.5L317.5 459.7L317.4 461.0L317.2 462.3L317.1 463.5L317.0 464.8L316.9 466.1L316.8 467.3L316.7 468.6L316.7 469.9L316.7 471.1L316.7 472.4L316.8 473.7L316.9 474.9L317.0 476.2L317.2 477.4L317.4 478.7L317.6 480.0L317.9 481.2L318.3 482.5"/>
<path d="M322.5 432.0L321.9 433.3L321.5 434.5L321.2 435.7L321.0 436.8L320.9 437.9L321.0 439.0L321.1 440.0L321.3 440.9L321.6 441.9L322.0 442.8L322.5 443.7L323.0 444.5L323.6 445.4L324.2 446.2L324.8 447.0L325.5 447.8L326.2 448.6L326.9 449.4L327.6 450.1L328.3 450.9L328.9 451.7L329.6 452.5L330.2 453.3L330.8 454.1L331.4 455.0L331.9 455.8L332.3 456.7L332.7 457.6L333.0 458.5L333.2 459.5L333.3 460.5L333.4 461.5L333.3 462.6L333.1 463.7L332.7 464.8L332.3 466.0L331.7 467.3L330.9 468.6L330.0 470.0"/>
<path d="M330.8 430.0L330.9 431.7L331.0 433.3L331.3 434.9L331.6 436.4L331.9 438.0L332.3 439.5L332.8 441.0L333.3 442.4L333.8 443.9L334.4 445.3L335.1 446.7L335.7 448.1L336.4 449.5L337.2 450.9L337.9 452.2L338.7 453.6L339.5 454.9L340.3 456.2L341.1 457.6L341.9 458.9L342.8 460.2L343.6 461.6L344.4 462.9L345.2 464.2L346.0 465.6L346.8 466.9L347.6 468.3L348.3 469.6L349.1 471.0L349.8 472.4L350.4 473.8L351.1 475.2L351.7 476.7L352.2 478.1L352.7 479.6L353.2 481.1L353.6 482.7L353.9 484.2L354.2 485.8"/>
<path d="M334.0 429.0L334.4 430.8L334.9 432.6L335.5 434.4L336.1 436.1L336.8 437.8L337.5 439.4L338.2 441.1L339.0 442.7L339.9 444.3L340.8 445.9L341.7 447.4L342.6 448.9L343.6 450.5L344.6 452.0L345.6 453.5L346.6 455.0L347.7 456.5L348.7 458.0L349.7 459.4L350.8 460.9L351.8 462.4L352.8 463.9L353.9 465.4L354.9 466.9L355.9 468.4L356.8 469.9L357.8 471.5L358.7 473.0L359.6 474.6L360.4 476.2L361.2 477.8L362.0 479.4L362.7 481.1L363.4 482.8L364.0 484.5L364.5 486.2L365.0 488.0L365.4 489.8L365.8 491.7"/>
<path d="M340.0 428.0L339.9 429.0L339.8 430.1L339.8 431.1L339.8 432.0L339.9 433.0L340.1 433.9L340.3 434.8L340.6 435.6L340.9 436.5L341.2 437.3L341.6 438.1L342.0 438.9L342.5 439.7L343.0 440.5L343.5 441.3L344.0 442.1L344.6 442.8L345.1 443.6L345.7 444.3L346.3 445.1L346.8 445.8L347.4 446.5L348.0 447.3L348.6 448.0L349.1 448.8L349.7 449.6L350.2 450.3L350.7 451.1L351.2 451.9L351.7 452.7L352.1 453.5L352.6 454.4L352.9 455.2L353.3 456.1L353.5 457.0L353.8 457.9L354.0 458.8L354.1 459.8L354.2 460.8"/>
<path d="M344.2 427.0L344.7 428.0L345.2 429.0L345.7 430.0L346.2 430.9L346.8 431.9L347.4 432.8L348.0 433.7L348.7 434.6L349.3 435.4L350.0 436.3L350.7 437.1L351.4 437.9L352.1 438.7L352.8 439.6L353.6 440.3L354.3 441.1L355.1 441.9L355.9 442.7L356.6 443.4L357.4 444.2L358.2 445.0L359.0 445.7L359.8 446.5L360.6 447.2L361.4 448.0L362.2 448.7L362.9 449.5L363.7 450.3L364.5 451.0L365.3 451.8L366.0 452.6L366.8 453.4L367.5 454.2L368.3 455.0L369.0 455.8L369.7 456.6L370.4 457.5L371.0 458.3L371.7 459.2"/>
</g>
<path d="M259.6 426.5 C266 415 283 407.3 302.5 407.3 C322 407.3 339 415 345.4 425.6 C334 431 318 432.8 302.5 432.8 C287 432.8 271 431.5 259.6 426.5 Z" fill="#edecd2" stroke="#b3c07a" stroke-width="1.7"/>
<g fill="#b0aa86">
<circle cx="290.6" cy="412.2" r="0.55"/>
<circle cx="294.7" cy="410.9" r="0.55"/>
<circle cx="300.7" cy="412.4" r="0.55"/>
<circle cx="305.4" cy="411.3" r="0.55"/>
<circle cx="311.1" cy="410.6" r="0.55"/>
<circle cx="279.6" cy="416.2" r="0.55"/>
<circle cx="283.5" cy="415.6" r="0.55"/>
<circle cx="287.3" cy="415.7" r="0.55"/>
<circle cx="293.6" cy="416.3" r="0.55"/>
<circle cx="298.8" cy="414.9" r="0.55"/>
<circle cx="302.5" cy="415.6" r="0.55"/>
<circle cx="306.5" cy="415.2" r="0.55"/>
<circle cx="311.6" cy="414.5" r="0.55"/>
<circle cx="316.1" cy="415.8" r="0.55"/>
<circle cx="321.1" cy="414.8" r="0.55"/>
<circle cx="326.5" cy="416.0" r="0.55"/>
<circle cx="275.7" cy="418.4" r="0.55"/>
<circle cx="280.8" cy="418.2" r="0.55"/>
<circle cx="284.8" cy="418.4" r="0.55"/>
<circle cx="289.8" cy="418.8" r="0.55"/>
<circle cx="294.5" cy="419.8" r="0.55"/>
<circle cx="300.7" cy="418.4" r="0.55"/>
<circle cx="304.6" cy="418.8" r="0.55"/>
<circle cx="309.7" cy="418.3" r="0.55"/>
<circle cx="315.6" cy="420.1" r="0.55"/>
<circle cx="319.5" cy="419.1" r="0.55"/>
<circle cx="323.4" cy="418.3" r="0.55"/>
<circle cx="328.8" cy="418.6" r="0.55"/>
<circle cx="268.6" cy="423.3" r="0.55"/>
<circle cx="275.1" cy="422.8" r="0.55"/>
<circle cx="279.8" cy="423.9" r="0.55"/>
<circle cx="284.7" cy="422.6" r="0.55"/>
<circle cx="287.7" cy="422.4" r="0.55"/>
<circle cx="292.5" cy="422.3" r="0.55"/>
<circle cx="298.3" cy="423.7" r="0.55"/>
<circle cx="303.6" cy="422.9" r="0.55"/>
<circle cx="308.0" cy="423.5" r="0.55"/>
<circle cx="311.4" cy="423.2" r="0.55"/>
<circle cx="318.2" cy="423.5" r="0.55"/>
<circle cx="322.6" cy="422.9" r="0.55"/>
<circle cx="326.0" cy="423.5" r="0.55"/>
<circle cx="331.2" cy="423.5" r="0.55"/>
<circle cx="337.5" cy="422.7" r="0.55"/>
<circle cx="271.2" cy="426.6" r="0.55"/>
<circle cx="276.6" cy="427.5" r="0.55"/>
<circle cx="281.0" cy="427.5" r="0.55"/>
<circle cx="286.0" cy="426.8" r="0.55"/>
<circle cx="290.9" cy="425.7" r="0.55"/>
<circle cx="295.5" cy="426.1" r="0.55"/>
<circle cx="299.2" cy="427.3" r="0.55"/>
<circle cx="304.4" cy="426.6" r="0.55"/>
<circle cx="310.5" cy="426.8" r="0.55"/>
<circle cx="314.4" cy="426.7" r="0.55"/>
<circle cx="319.7" cy="427.3" r="0.55"/>
<circle cx="323.5" cy="426.8" r="0.55"/>
<circle cx="328.6" cy="426.3" r="0.55"/>
<circle cx="334.7" cy="426.7" r="0.55"/>
<circle cx="292.4" cy="430.4" r="0.55"/>
<circle cx="298.0" cy="430.2" r="0.55"/>
<circle cx="302.1" cy="430.1" r="0.55"/>
<circle cx="308.1" cy="429.5" r="0.55"/>
<circle cx="312.5" cy="430.4" r="0.55"/>
<circle cx="316.0" cy="430.2" r="0.55"/>
</g>
<g stroke="#555555" stroke-width="1.4">
<line x1="310.5" y1="141" x2="466" y2="141"/>
<line x1="139" y1="203.8" x2="209.2" y2="203.8"/>
<line x1="92" y1="365.6" x2="303.5" y2="365.6"/>
<line x1="92" y1="419.6" x2="299.5" y2="419.6"/>
<line x1="356.5" y1="468.6" x2="506" y2="468.6"/>
</g>
<g fill="#000">
<circle cx="310.5" cy="141" r="3"/>
<circle cx="209.2" cy="203.8" r="3"/>
<circle cx="303.5" cy="365.6" r="3"/>
<circle cx="299.5" cy="419.6" r="3"/>
<circle cx="356.5" cy="468.6" r="3"/>
</g>
<text x="261" y="51.4" font-size="31" font-weight="bold" textLength="78.4" lengthAdjust="spacingAndGlyphs">BULB</text>
<text x="44" y="204" font-size="20.5" stroke="#111" stroke-width="0.25" textLength="85.4" lengthAdjust="spacingAndGlyphs">Fleshy leaf</text>
<text x="479.4" y="141" font-size="20.5" stroke="#111" stroke-width="0.25" textLength="74.2" lengthAdjust="spacingAndGlyphs">Scale leaf</text>
<text x="44.2" y="365.8" font-size="21" stroke="#111" stroke-width="0.25" textLength="32.5" lengthAdjust="spacingAndGlyphs">Bud</text>
<text x="43.7" y="417.5" font-size="21" stroke="#111" stroke-width="0.25" textLength="40.5" lengthAdjust="spacingAndGlyphs">Stem</text>
<text x="516.7" y="469" font-size="21" stroke="#111" stroke-width="0.25" textLength="39.3" lengthAdjust="spacingAndGlyphs">Root</text>
<text x="268.3" y="533.3" font-size="23" font-weight="bold" textLength="63.4" lengthAdjust="spacingAndGlyphs">Onion</text>
<text x="225" y="563.3" font-size="23.5" font-style="italic" stroke="#111" stroke-width="0.4" textLength="150" lengthAdjust="spacingAndGlyphs">(Allium cepa L.)</text>
</svg>
</body></html>
